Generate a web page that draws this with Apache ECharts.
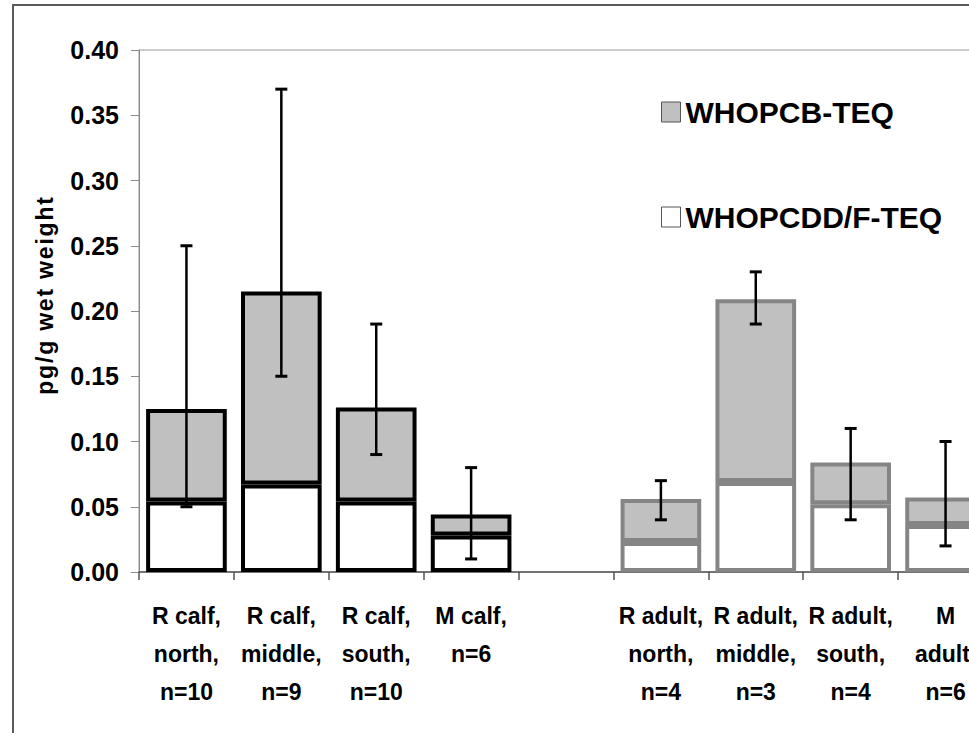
<!DOCTYPE html>
<html>
<head>
<meta charset="utf-8">
<script src="https://cdn.jsdelivr.net/npm/echarts@6/dist/echarts.min.js"></script>
<style>
html,body{margin:0;padding:0;background:#fff;overflow:hidden;width:969px;height:733px;}
#chart{width:1100px;height:733px;}
</style>
</head>
<body>
<div id="chart"></div>
<script>
// ---- data ----
const categories = [
  'R calf,\nnorth,\nn=10', 'R calf,\nmiddle,\nn=9', 'R calf,\nsouth,\nn=10', 'M calf,\nn=6',
  '',
  'R adult,\nnorth,\nn=4', 'R adult,\nmiddle,\nn=3', 'R adult,\nsouth,\nn=4', 'M\nadult,\nn=6'
];
const pcddValues = [0.054, 0.067, 0.054, 0.028, null, 0.023, 0.069, 0.052, 0.036];
const pcbValues  = [0.071, 0.148, 0.072, 0.016, null, 0.033, 0.140, 0.032, 0.021];
const errLow     = [0.05, 0.15, 0.09, 0.01, null, 0.04, 0.19, 0.04, 0.02];
const errHigh    = [0.25, 0.37, 0.19, 0.08, null, 0.07, 0.23, 0.11, 0.10];
const yTicks = ['0.00','0.05','0.10','0.15','0.20','0.25','0.30','0.35','0.40'];

const FONT = '"Liberation Sans", Arial, sans-serif';
const isCalf = i => categories[i].indexOf('calf') >= 0;
const borderFor = i => isCalf(i) ? '#000000' : '#858585';

function barData(vals) {
  return vals.map((v, i) => v == null ? null : ({ value: v, itemStyle: { borderColor: borderFor(i) } }));
}
const errData = [];
errLow.forEach((lo, i) => { if (lo != null) errData.push([i, lo, errHigh[i]]); });

const chart = echarts.init(document.getElementById('chart'), null, { renderer: 'svg' });
chart.setOption({
  animation: false,
  backgroundColor: '#ffffff',
  graphic: [{
    type: 'rect', z: 100, silent: true,
    shape: { x: 13, y: 5, width: 1400, height: 1200 },
    style: { fill: 'none', stroke: '#5a5a5a', lineWidth: 2 }
  }],
  grid: { left: 139, top: 50, bottom: 161, right: 107, show: true, borderColor: '#9a9a9a', borderWidth: 1, backgroundColor: 'transparent' },
  legend: {
    orient: 'vertical', left: 656, top: 92, selectedMode: false,
    itemWidth: 19, itemHeight: 20, itemGap: 75,
    textStyle: { fontFamily: FONT, fontSize: 30, fontWeight: 'bold', color: '#000', lineHeight: 30 },
    data: [
      { name: 'WHOPCB-TEQ', icon: 'rect', itemStyle: { color: '#c0c0c0', borderColor: '#555', borderWidth: 1 } },
      { name: 'WHOPCDD/F-TEQ', icon: 'rect', itemStyle: { color: '#ffffff', borderColor: '#555', borderWidth: 1 } }
    ]
  },
  xAxis: {
    type: 'category', data: categories,
    axisLine: { lineStyle: { color: '#555', width: 1.5 } },
    axisTick: { show: true, length: 8, lineStyle: { color: '#555', width: 1.5 } },
    axisLabel: { margin: 25, interval: 0, fontFamily: FONT, fontSize: 23, fontWeight: 'bold', color: '#000', lineHeight: 38 }
  },
  yAxis: {
    type: 'value', min: 0, max: 0.4, interval: 0.05,
    name: 'pg/g wet weight', nameLocation: 'middle', nameGap: 83, nameRotate: 90,
    nameTextStyle: { fontFamily: FONT, fontSize: 23, fontWeight: 'bold', color: '#000', padding: [0, 0, 0, 32] },
    axisLine: { show: true, lineStyle: { color: '#8a8a8a', width: 1 } },
    axisTick: { show: true, length: 8, lineStyle: { color: '#8a8a8a', width: 1 } },
    splitLine: { show: false },
    axisLabel: { margin: 20, fontFamily: FONT, fontSize: 25, fontWeight: 'bold', color: '#000',
      formatter: (v) => yTicks[Math.round(v / 0.05)] }
  },
  series: [
    {
      name: 'WHOPCDD/F-TEQ', type: 'bar', stack: 'teq', barWidth: '85%',
      itemStyle: { color: '#ffffff', borderColor: '#000', borderWidth: 4 },
      data: barData(pcddValues)
    },
    {
      name: 'WHOPCB-TEQ', type: 'bar', stack: 'teq', barWidth: '85%',
      itemStyle: { color: '#c0c0c0', borderColor: '#000', borderWidth: 4 },
      data: barData(pcbValues)
    },
    {
      name: 'error', type: 'custom', z: 10, silent: true,
      encode: { x: 0, y: [1, 2] },
      data: errData,
      renderItem: function (params, api) {
        const x = api.value(0);
        const lo = api.coord([x, api.value(1)]);
        const hi = api.coord([x, api.value(2)]);
        const cap = 6;
        const st = { stroke: '#000', lineWidth: 3 };
        return {
          type: 'group',
          children: [
            { type: 'line', shape: { x1: lo[0], y1: lo[1], x2: hi[0], y2: hi[1] }, style: { stroke: '#000', lineWidth: 2.5 } },
            { type: 'line', shape: { x1: lo[0] - cap, y1: lo[1], x2: lo[0] + cap, y2: lo[1] }, style: st },
            { type: 'line', shape: { x1: hi[0] - cap, y1: hi[1], x2: hi[0] + cap, y2: hi[1] }, style: st }
          ]
        };
      }
    }
  ]
});

function spaceName() {
  document.querySelectorAll('#chart svg text').forEach(t => {
    if (t.textContent === 'pg/g wet weight') t.setAttribute('letter-spacing', '1.8');
  });
}
chart.on('finished', spaceName);
spaceName();
</script>
</body>
</html>
